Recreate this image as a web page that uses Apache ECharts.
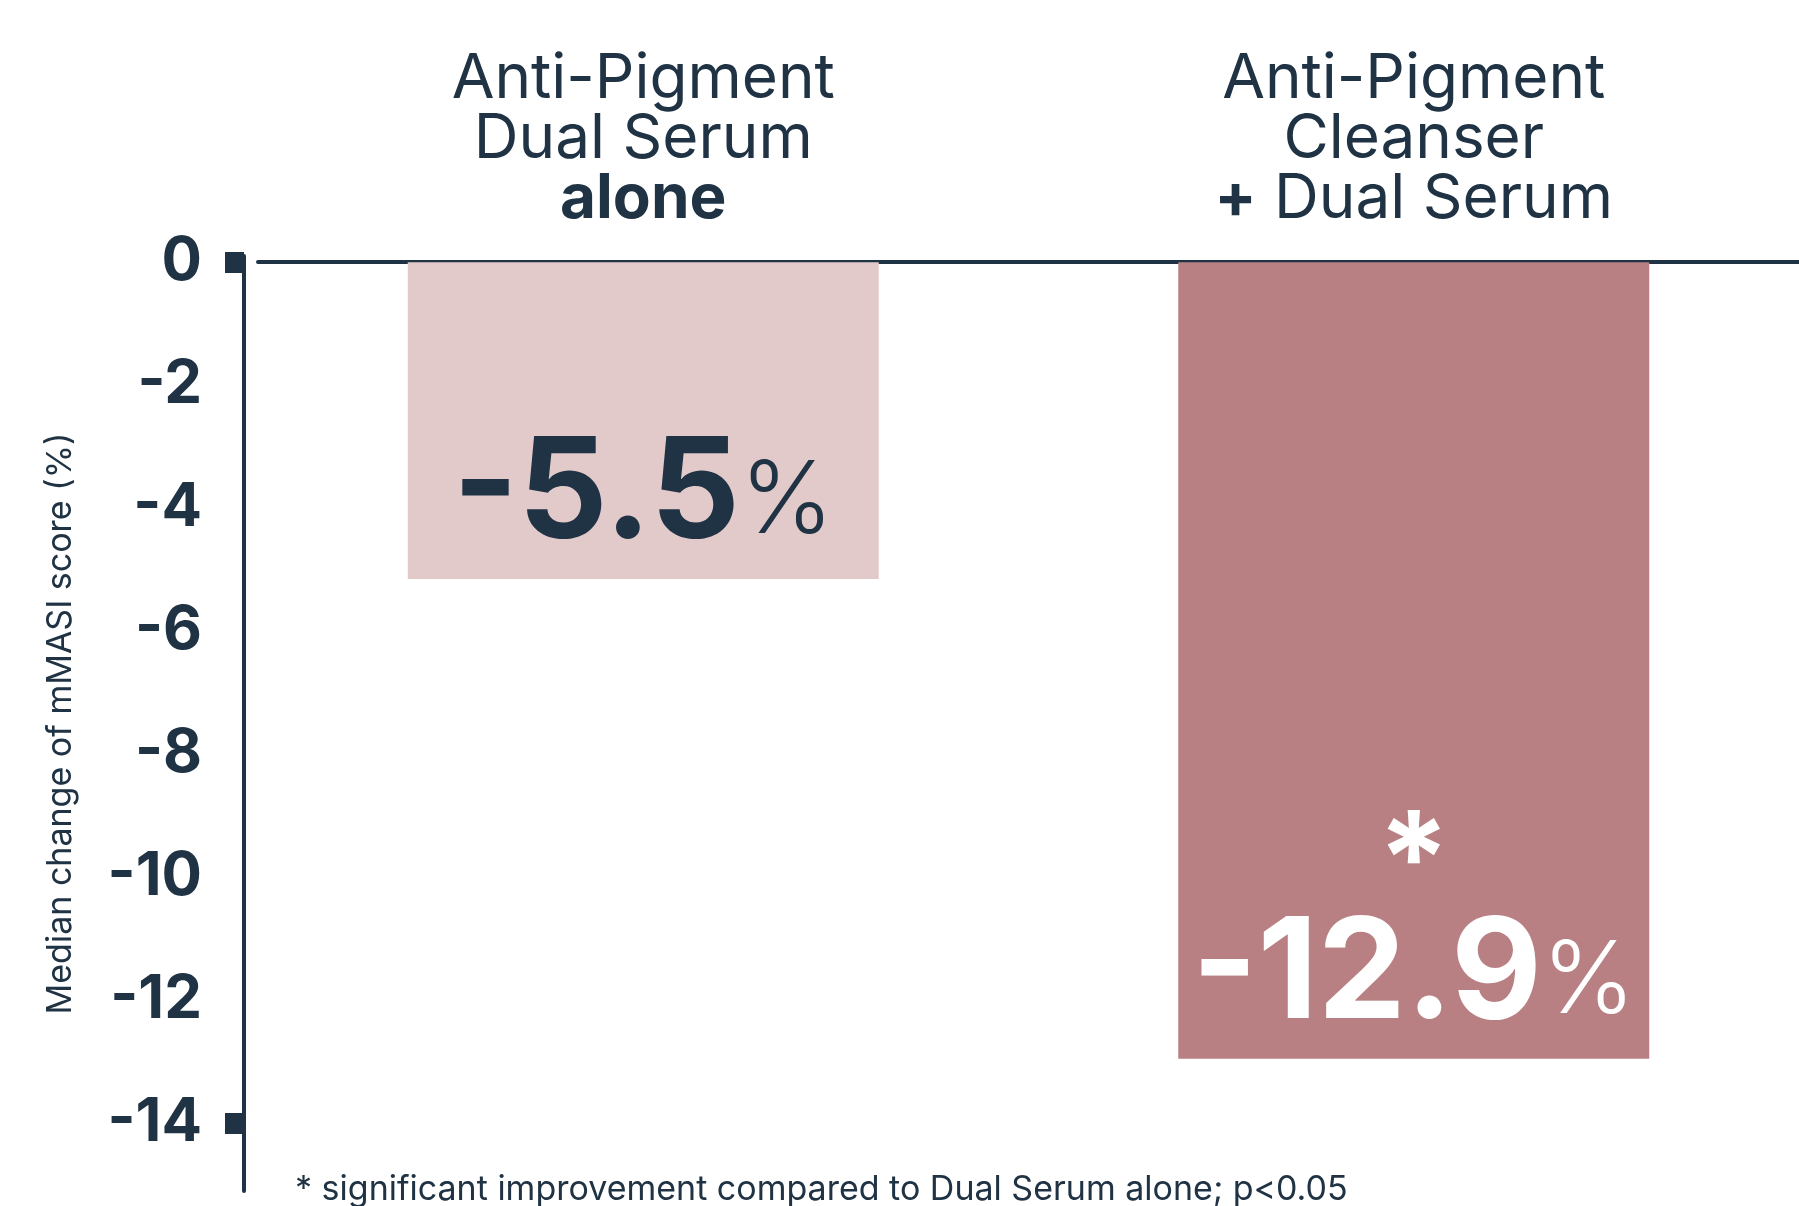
<!DOCTYPE html>
<html>
<head>
<meta charset="utf-8">
<script src="https://cdn.jsdelivr.net/npm/echarts@6/dist/echarts.min.js"></script>
<style>
  html, body { margin: 0; padding: 0; background: #fff; }
  #container { width: 1799px; height: 1206px; }
</style>
</head>
<body>
<div id="container"></div>
<script>
  // chart data
  var categories = ['Anti-Pigment Dual Serum alone', 'Anti-Pigment Cleanser + Dual Serum'];
  var categoryText = [
    '{r|Anti-Pigment}\n{r|Dual Serum}\n{b|alone}',
    '{r|Anti-Pigment}\n{r|Cleanser}\n{b|+}{r| Dual Serum}'
  ];
  var values = [-5.15, -12.95];
  var valueLabels = ['-5.5', '-12.9'];
  var significant = [false, true];
  var yTickLabels = [0, -2, -4, -6, -8, -10, -12, -14];
  var yTickMarks = [0, -14];
  var yName = 'Median change of mMASI score (%)';
  var footnote = '* significant improvement compared to Dual Serum alone; p<0.05';

  var navy = '#203344';
  var barColors = ['#E2CACA', '#B88083'];
  var labelColors = [navy, '#ffffff'];
  var font = 'Inter';

  var seriesData = [];
  for (var i = 0; i < values.length; i++) {
    seriesData.push({
      value: values[i],
      itemStyle: { color: barColors[i] },
      label: {
        color: labelColors[i],
        rich: {
          v: { fontSize: 140, fontWeight: 'bold', fontFamily: font, color: labelColors[i], lineHeight: 130 },
          p: { fontSize: 100, fontWeight: 300, fontFamily: font, color: labelColors[i], lineHeight: 130, padding: [14, 0, 0, 0] },
          s: { fontSize: 130, fontWeight: 'bold', fontFamily: font, color: labelColors[i], lineHeight: 90 }
        }
      }
    });
  }

  var myChart = echarts.init(document.getElementById('container'));
  var option = {
    backgroundColor: '#ffffff',
    animation: false,
    title: {
      text: footnote,
      left: 290,
      top: 1168,
      textStyle: { fontSize: 34, fontWeight: 'normal', color: navy, fontFamily: font }
    },
    grid: { left: 258, right: 0, top: 256, bottom: 15 },
    xAxis: {
      type: 'category',
      data: categories,
      position: 'top',
      axisLine: { onZero: true, lineStyle: { color: navy, width: 4 } },
      axisTick: { show: false },
      axisLabel: {
        interval: 0,
        margin: 27,
        color: navy,
        formatter: function (v, idx) { return categoryText[idx]; },
        rich: {
          r: { fontSize: 62, fontFamily: font, fontWeight: 'normal', color: navy, lineHeight: 60 },
          b: { fontSize: 62, fontFamily: font, fontWeight: 'bold', color: navy, lineHeight: 60 }
        }
      }
    },
    yAxis: {
      type: 'value',
      min: -15.1,
      max: 0.1,
      offset: 14,
      name: yName,
      nameLocation: 'middle',
      nameRotate: 90,
      nameGap: 166,
      nameTextStyle: { fontSize: 34, color: navy, fontFamily: font },
      axisLine: { show: true, lineStyle: { color: navy, width: 4 } },
      axisTick: { show: true, length: 19, customValues: yTickMarks, lineStyle: { color: navy, width: 21 } },
      axisLabel: {
        customValues: yTickLabels,
        margin: 42,
        fontSize: 60,
        fontWeight: 'bold',
        fontFamily: font,
        color: navy,
        formatter: function (v) { return String(v); }
      },
      splitLine: { show: false }
    },
    series: [{
      type: 'bar',
      barWidth: 471,
      data: seriesData,
      label: {
        show: true,
        position: 'insideBottom',
        distance: 18,
        formatter: function (p) {
          var s = '{v|' + valueLabels[p.dataIndex] + '}{p|%}';
          if (significant[p.dataIndex]) s = '{s|*}\n' + s;
          return s;
        }
      }
    }]
  };
  myChart.setOption(option);
</script>
</body>
</html>
